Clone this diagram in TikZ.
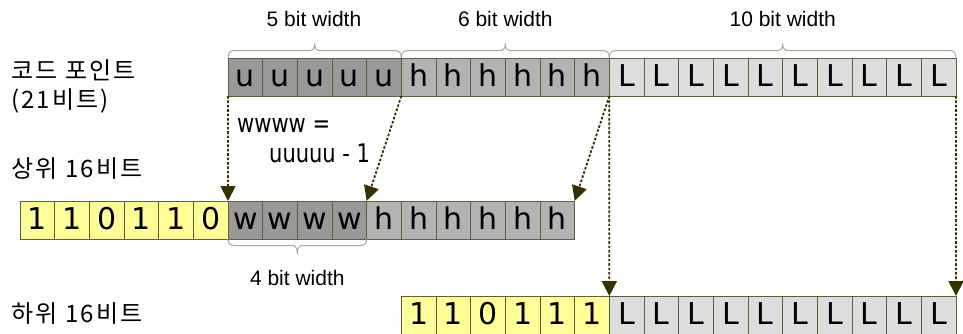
\documentclass[tikz,border=0pt]{standalone}
\usepackage{fontspec}
\setmainfont{Liberation Sans}
\newfontfamily\cellfont{DejaVu Sans}
\newfontfamily\krfont[LetterSpace=9]{Noto Sans CJK KR}
\usetikzlibrary{arrows.meta,calc}
\definecolor{ugray}{HTML}{999999}
\definecolor{hgray}{HTML}{B3B3B3}
\definecolor{lgray}{HTML}{DDDDDD}
\definecolor{yel}{HTML}{FFFF99}
\definecolor{cellborder}{HTML}{5E5E38}
\definecolor{arrowcol}{HTML}{333300}
\definecolor{bracecol}{HTML}{A6A6A6}
\newcommand\mybracetop[2]{%
 \draw[bracestyle] let \p1=(#1.north west), \p2=(#2.north east), \p3=($(\p1)!0.5!(\p2)$) in
 (\p1) .. controls (\x1,\y1+5pt) and (\x1+2pt,\y1+7.5pt) .. (\x1+7pt,\y1+7.5pt)
 -- (\x3-5pt,\y1+7.5pt) .. controls (\x3-1.5pt,\y1+7.5pt) and (\x3,\y1+10pt) .. (\x3,\y1+14.5pt)
 .. controls (\x3,\y1+10pt) and (\x3+1.5pt,\y1+7.5pt) .. (\x3+5pt,\y1+7.5pt)
 -- (\x2-7pt,\y1+7.5pt) .. controls (\x2-2pt,\y1+7.5pt) and (\x2,\y1+5pt) .. (\x2,\y1);}
\newcommand\mybracebot[2]{%
 \draw[bracestyle] let \p1=(#1.south west), \p2=(#2.south east), \p3=($(\p1)!0.5!(\p2)$) in
 (\p1) .. controls (\x1,\y1-4.5pt) and (\x1+2pt,\y1-6.5pt) .. (\x1+7pt,\y1-6.5pt)
 -- (\x3-5pt,\y1-6.5pt) .. controls (\x3-1.5pt,\y1-6.5pt) and (\x3,\y1-9pt) .. (\x3,\y1-15pt)
 .. controls (\x3,\y1-9pt) and (\x3+1.5pt,\y1-6.5pt) .. (\x3+5pt,\y1-6.5pt)
 -- (\x2-7pt,\y1-6.5pt) .. controls (\x2-2pt,\y1-6.5pt) and (\x2,\y1-4.5pt) .. (\x2,\y1);}
\newcommand\tallbox[1]{\scalebox{1}[1.22]{#1}}
\begin{document}
\begin{tikzpicture}[x=1pt,y=-1pt,
  cell/.style={draw=cellborder, line width=0.8pt, minimum width=34.667pt, minimum height=38pt,
    inner sep=0pt, outer sep=0pt, anchor=north west, text height=18pt, text depth=0pt,
    font=\cellfont\fontsize{30}{30}\selectfont},
  lbl/.style={anchor=base, inner sep=0pt, font=\fontsize{21}{21}\selectfont},
  krlbl/.style={anchor=base west, inner sep=0pt, font=\krfont\fontsize{24}{24}\selectfont},
  formula/.style={anchor=base west, inner sep=0pt, font=\cellfont\fontsize{21}{21}\selectfont},
  arr/.style={draw=arrowcol, line width=1.8pt, dash pattern=on 2.6pt off 1.8pt,
    -{Triangle[width=15pt,length=15pt,fill=arrowcol]}},
  bracestyle/.style={draw=bracecol, line width=1pt}]
\useasboundingbox (0,0) rectangle (963,333);
% top row: code point
\foreach \i in {1,...,5} \node[cell, fill=ugray] (t\i) at ({228+(\i-1)*34.667},58) {u};
\foreach \i in {6,...,11} \node[cell, fill=hgray] (t\i) at ({228+(\i-1)*34.667},58) {h};
\foreach \i in {12,...,21} \node[cell, fill=lgray] (t\i) at ({228+(\i-1)*34.667},58) {L};
% middle row: high surrogate
\foreach \d [count=\i] in {1,1,0,1,1,0} \node[cell, fill=yel] (m\i) at ({20+(\i-1)*34.667},201) {\d};
\foreach \i in {7,...,10} \node[cell, fill=ugray] (m\i) at ({20+(\i-1)*34.667},201) {w};
\foreach \i in {11,...,16} \node[cell, fill=hgray] (m\i) at ({20+(\i-1)*34.667},201) {h};
% bottom row: low surrogate
\foreach \d [count=\i] in {1,1,0,1,1,1} \node[cell, fill=yel] (b\i) at ({401.33+(\i-1)*34.667},296) {\d};
\foreach \i in {7,...,16} \node[cell, fill=lgray] (b\i) at ({401.33+(\i-1)*34.667},296) {L};
% braces
\mybracetop{t1}{t5}
\mybracetop{t6}{t11}
\mybracetop{t12}{t21}
\mybracebot{m7}{m10}
% width labels
\node[lbl] (l5) at (314,26.5) {5 bit width};
\node[lbl] (l6) at (505.3,26.5) {6 bit width};
\node[lbl] (l10) at (782.7,26.5) {10 bit width};
\node[lbl] (l4) at (297.3,285) {4 bit width};
% korean labels
\node[krlbl] (k1) at (11,79) {코드 포인트};
\node[krlbl] (k2) at (11,108) {(21비트)};
\node[krlbl] (k3) at (11,177) {상위 16비트};
\node[krlbl] (k4) at (11,322) {하위 16비트};
% formula
\node[formula] (f1) at (237,132) {\tallbox{wwww =}};
\node[formula] (f2) at (269,162) {\tallbox{uuuuu - 1}};
% arrows
\draw[arr] (t1.south west) -- (m7.north west);
\draw[arr] (t5.south east) -- (m10.north east);
\draw[arr] (t11.south east) -- (m16.north east);
\draw[arr] (t11.south east) -- (b6.north east);
\draw[arr] (t21.south east) -- (b16.north east);
\end{tikzpicture}
\end{document}
